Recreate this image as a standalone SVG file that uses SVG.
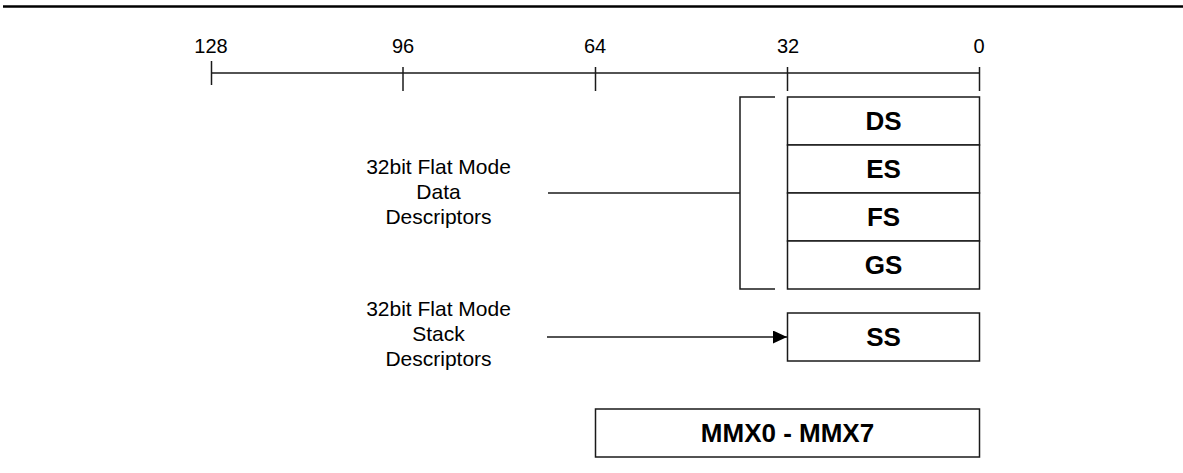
<svg xmlns="http://www.w3.org/2000/svg" width="1183" height="473" viewBox="0 0 1183 473">
<style>
.ax{font-family:"Liberation Sans",Arial,sans-serif;font-size:20px;fill:#000;text-anchor:middle}
.lb{font-family:"Liberation Sans",Arial,sans-serif;font-size:21px;fill:#000;text-anchor:middle}
.rg{font-family:"Liberation Sans",Arial,sans-serif;font-size:26px;font-weight:bold;fill:#000;text-anchor:middle}
.bx{fill:#fff;stroke:#1a1a1a;stroke-width:1.5}
.ln{fill:none;stroke:#1a1a1a;stroke-width:1.5}
</style>
<defs>
<marker id="arr" viewBox="0 0 14 13" refX="14" refY="6.5" markerWidth="14" markerHeight="13" markerUnits="userSpaceOnUse" orient="auto">
<path d="M0,0 L14,6.5 L0,13 Z" fill="#000"/>
</marker>
</defs>
<line x1="3" y1="6.5" x2="1183" y2="6.5" stroke="#000" stroke-width="2.5"/>
<g id="axis">
<line class="ln" x1="211.5" y1="73" x2="979.5" y2="73"/>
<line class="ln" x1="211.5" y1="61" x2="211.5" y2="85"/>
<line class="ln" x1="403" y1="67" x2="403" y2="91"/>
<line class="ln" x1="595.5" y1="67" x2="595.5" y2="91"/>
<line class="ln" x1="787.5" y1="67" x2="787.5" y2="91"/>
<line class="ln" x1="979.5" y1="67" x2="979.5" y2="91"/>
<text class="ax" x="211" y="53">128</text>
<text class="ax" x="403" y="53">96</text>
<text class="ax" x="595" y="53">64</text>
<text class="ax" x="788" y="53">32</text>
<text class="ax" x="979" y="53">0</text>
</g>
<g id="DS"><rect class="bx" x="787.5" y="97" width="192" height="48"/><text class="rg" x="883.5" y="129.5">DS</text></g>
<g id="ES"><rect class="bx" x="787.5" y="145" width="192" height="48"/><text class="rg" x="883.5" y="177.5">ES</text></g>
<g id="FS"><rect class="bx" x="787.5" y="193" width="192" height="48"/><text class="rg" x="883.5" y="225.5">FS</text></g>
<g id="GS"><rect class="bx" x="787.5" y="241" width="192" height="48"/><text class="rg" x="883.5" y="273.5">GS</text></g>
<g id="SS"><rect class="bx" x="787.5" y="313" width="192" height="48"/><text class="rg" x="883.5" y="346">SS</text></g>
<g id="MMX"><rect class="bx" x="595.5" y="409" width="384" height="48"/><text class="rg" x="787.5" y="441.5">MMX0 - MMX7</text></g>
<g id="data-label">
<text class="lb" x="438.5" y="174">32bit Flat Mode</text>
<text class="lb" x="438.5" y="199">Data</text>
<text class="lb" x="438.5" y="224">Descriptors</text>
</g>
<g id="stack-label">
<text class="lb" x="438.5" y="316">32bit Flat Mode</text>
<text class="lb" x="438.5" y="341">Stack</text>
<text class="lb" x="438.5" y="366">Descriptors</text>
</g>
<g id="connectors">
<polyline class="ln" points="775,97 740,97 740,289 775,289"/>
<line class="ln" x1="548" y1="193" x2="740" y2="193"/>
<line class="ln" x1="547" y1="337" x2="787" y2="337" marker-end="url(#arr)"/>
</g>
</svg>
